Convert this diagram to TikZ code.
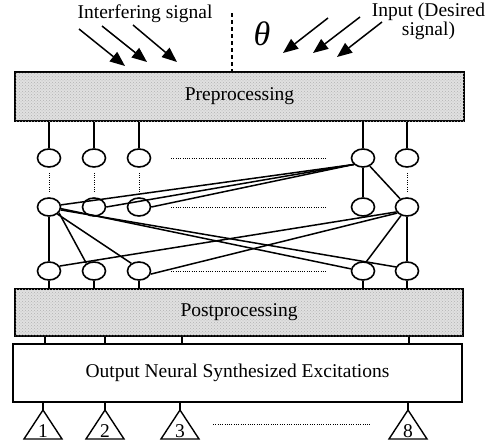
\documentclass[tikz,border=0pt]{standalone}
\usepackage{fontspec}
\setmainfont{Liberation Serif}
\usetikzlibrary{shapes.geometric,arrows.meta,patterns,calc}
\begin{document}
\begin{tikzpicture}[x=1pt,y=-1pt,
  lab/.style={font=\fontsize{19.5}{22}\selectfont, inner sep=0},
  neu/.style={draw, ellipse, line width=1.6pt, minimum width=23pt, minimum height=18pt, inner sep=0},
  conn/.style={line width=1.5pt},
  dots/.style={line width=0.9pt, dash pattern=on 0.9pt off 1.4pt},
  sig/.style={line width=1.5pt, -{Triangle[length=15pt,width=12pt]}},
  grayblock/.style={draw, line width=1.3pt, fill=black!12, inner sep=0,
     postaction={pattern=crosshatch dots, pattern color=black!30},
     font=\fontsize{19.5}{22}\selectfont},
  whiteblock/.style={draw, line width=1.3pt, fill=white, inner sep=0,
     font=\fontsize{19.5}{22}\selectfont},
  tri/.style={line width=1.4pt, line join=miter}
]
\useasboundingbox (0,0) rectangle (493,447);

% signal texts
\node[lab, anchor=base] (tint) at (145,18) {Interfering signal};
\node[lab, anchor=center, align=center, font=\fontsize{19.5}{17}\selectfont] (tin) at (428.5,21) {Input (Desired\\signal)};
\node[inner sep=0, font=\fontsize{34}{38}\selectfont\itshape] (th) at (262,34) {θ};

% blocks
\node[grayblock, minimum width=449pt, minimum height=49pt] (pre) at (239.5,96.5) {Preprocessing};
\node[grayblock, minimum width=448pt, minimum height=47pt] (post) at (239,312.5) {Postprocessing};
\node[whiteblock, minimum width=449pt, minimum height=58pt] (out) at (237.5,373) {Output Neural Synthesized Excitations};

% dashed normal line
\coordinate (dtop) at (232,13);
\draw[line width=1.3pt, dash pattern=on 4pt off 3pt] (dtop) -- (dtop |- pre.north);

% signal arrows
\coordinate (la1) at (79,29);  \coordinate (lb1) at (125,66);
\coordinate (la2) at (102,26); \coordinate (lb2) at (147,62);
\coordinate (la3) at (133,25); \coordinate (lb3) at (177,62);
\coordinate (ra1) at (328,18); \coordinate (rb1) at (283,53);
\coordinate (ra2) at (360,17); \coordinate (rb2) at (313,53);
\coordinate (ra3) at (382,22); \coordinate (rb3) at (337,57);
\foreach \i in {1,2,3}{
  \draw[sig] (la\i) -- (lb\i);
  \draw[sig] (ra\i) -- (rb\i);
}

% neurons
\foreach \c/\x in {1/49,2/94,3/139,4/363,5/407}{
  \node[neu] (n1\c) at (\x,158) {};
  \node[neu] (n2\c) at (\x,207) {};
  \node[neu] (n3\c) at (\x,271) {};
  \draw[conn] (n1\c.north) -- (n1\c.north |- pre.south);
  \draw[conn] (n3\c.south) -- (n3\c.south |- post.north);
}

% dotted vertical links
\foreach \c in {1,2,3,5}{
  \draw[dots] ($(n1\c.south)+(0,5)$) -- ($(n2\c.north)+(0,-5)$);
}
% dotted horizontal rows
\foreach \r/\y in {1/158,2/207,3/271}{
  \coordinate (hl\r) at (171,\y);
  \coordinate (hr\r) at (327,\y);
  \draw[dots] (hl\r) -- (hr\r);
}

% connections
\draw[conn] (n21.10) -- (n14.215);
\draw[conn] (n22.east) -- (n14.215);
\draw[conn] (n23.east) -- (n14.215);
\draw[conn] (n21.-8) -- (n34.170);
\draw[conn] (n21.-14) -- (n35.160);
\draw[conn] (n21.-30) -- (n32.135);
\draw[conn] (n21.-40) -- (n33.135);
\draw[conn] (n21.south) -- (n31.north);
\draw[conn] (n25.205) -- (n31.25);
\draw[conn] (n25.212) -- (n33.345);
\draw[conn] (n25.235) -- (n34.70);
\draw[conn] (n25.south) -- (n35.north);
\draw[conn] (n14.-50) -- (n25.130);
\draw[line width=2.4pt] (n14.south) -- (n24.north);

% post -> output links
\foreach \i/\x in {1/45,2/105,3/182,4/409}{
  \coordinate (q\i) at (\x,340);
  \draw[conn] (post.south -| q\i) -- (out.north -| q\i);
}

% output elements
\foreach \i/\x/\t in {1/43/1,2/105/2,3/180/3,4/408/8}{
  \coordinate (a\i) at (\x,410);
  \draw[conn] (out.south -| a\i) -- (a\i);
  \draw[tri] (a\i) -- ++(19,29) -- ++(-38,0) -- cycle;
  \node[lab] (e\i) at ($(a\i)+(0,21)$) {\t};
}
\coordinate (bl) at (213,424);
\coordinate (br) at (370,424);
\draw[dots] (bl) -- (br);
\end{tikzpicture}
\end{document}
